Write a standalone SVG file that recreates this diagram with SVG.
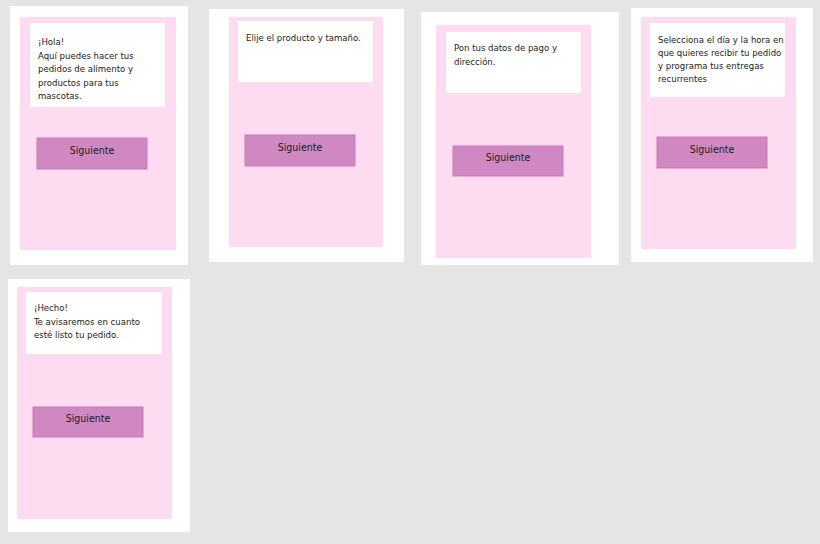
<svg xmlns="http://www.w3.org/2000/svg" width="820" height="544" viewBox="0 0 820 544">
<style>
.card{fill:#fff}.screen{fill:#fddcf2}.box{fill:#fff}.btn{fill:#d088c2;stroke:#c87bb9;stroke-width:1}
text{font-family:"Liberation Sans Narrow","DejaVu Sans Condensed","Roboto Condensed",sans-serif;font-size:9.5px;fill:#222}
.bt{font-size:10.5px;text-anchor:middle;fill:#1a1a1a}
</style>
<rect width="820" height="544" fill="#e5e5e5"/>
<g id="screen1"><rect class="card" x="10" y="6" width="178" height="259"/><rect class="screen" x="20" y="17" width="156" height="233"/><rect class="box" x="30" y="23" width="135" height="84"/>
<text x="38" y="45">¡Hola!</text><text x="38" y="58.5">Aquí puedes hacer tus</text><text x="38" y="72">pedidos de alimento y</text><text x="38" y="85.5">productos para tus</text><text x="38" y="99">mascotas.</text>
<rect class="btn" x="37" y="138" width="110" height="31"/><text class="bt" x="92" y="154">Siguiente</text></g>
<g id="screen2"><rect class="card" x="209" y="9" width="195" height="253"/><rect class="screen" x="229" y="17" width="154" height="230"/><rect class="box" x="238" y="21" width="135" height="61"/>
<text x="246" y="41">Elije el producto y tamaño.</text>
<rect class="btn" x="245" y="135" width="110" height="31"/><text class="bt" x="300" y="151">Siguiente</text></g>
<g id="screen3"><rect class="card" x="421" y="12" width="198" height="253"/><rect class="screen" x="436" y="25" width="155" height="233"/><rect class="box" x="446" y="32" width="135" height="61"/>
<text x="454" y="51">Pon tus datos de pago y</text><text x="454" y="64.5">dirección.</text>
<rect class="btn" x="453" y="146" width="110" height="30"/><text class="bt" x="508" y="161">Siguiente</text></g>
<g id="screen4"><rect class="card" x="631" y="8" width="182" height="254"/><rect class="screen" x="641" y="17" width="155" height="232"/><rect class="box" x="650" y="23" width="135" height="74"/>
<text x="658" y="43">Selecciona el día y la hora en</text><text x="658" y="56">que quieres recibir tu pedido</text><text x="658" y="69">y programa tus entregas</text><text x="658" y="82">recurrentes</text>
<rect class="btn" x="657" y="137" width="110" height="31"/><text class="bt" x="712" y="153">Siguiente</text></g>
<g id="screen5"><rect class="card" x="8" y="279" width="182" height="253"/><rect class="screen" x="17" y="287" width="155" height="232"/><rect class="box" x="26" y="292" width="136" height="62"/>
<text x="34" y="311">¡Hecho!</text><text x="34" y="324.5">Te avisaremos en cuanto</text><text x="34" y="338">esté listo tu pedido.</text>
<rect class="btn" x="33" y="407" width="110" height="30"/><text class="bt" x="88" y="422">Siguiente</text></g>
<g id="connectors"/>
</svg>
